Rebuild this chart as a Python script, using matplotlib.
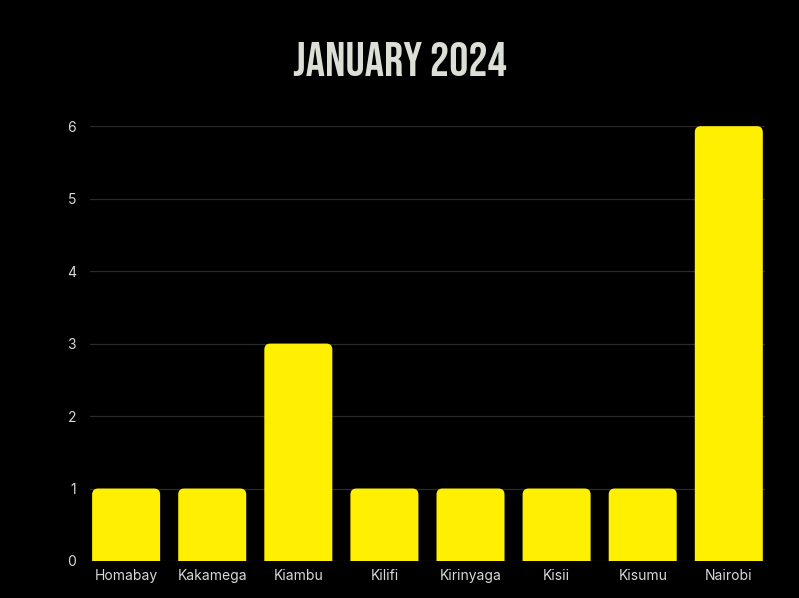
import matplotlib.pyplot as plt
from matplotlib.patches import FancyBboxPatch

counties = ["Homabay", "Kakamega", "Kiambu", "Kilifi", "Kirinyaga", "Kisii", "Kisumu", "Nairobi"]
counts = [1, 1, 3, 1, 1, 1, 1, 6]

bar_color = "#ffef00"
text_color = "#d9d9d9"
bar_w = 0.79

fig = plt.figure(figsize=(7.99, 5.98), dpi=100, facecolor="black")
ax = fig.add_axes([0.1126, 0.0619, 0.8448, 0.7271], facecolor="black")

# rounded boxes start below zero, so the axes clip away the bottom corners
for i, c in enumerate(counts):
    ax.add_patch(FancyBboxPatch((i - bar_w / 2, -0.3), bar_w, c + 0.3,
                                boxstyle="round,pad=0,rounding_size=0.07",
                                mutation_aspect=1.19,
                                facecolor=bar_color, edgecolor="none", zorder=3))

ax.set_xlim(-0.42, len(counties) - 1 + 0.42)
ax.set_ylim(0, 6)
ax.set_xticks(range(len(counties)))
ax.set_xticklabels(counties)
ax.set_yticks(range(7))
ax.tick_params(length=0, colors=text_color, labelsize=10)
ax.tick_params(axis="y", pad=10)
ax.tick_params(axis="x", pad=6)
for lbl in ax.get_xticklabels() + ax.get_yticklabels():
    lbl.set_family(["Inter", "DejaVu Sans"])
ax.grid(axis="y", color="#2b2b2b", linewidth=0.9, zorder=0)
for s in ax.spines.values():
    s.set_visible(False)

title = fig.text(0.5, 0.902, "JANUARY 2024", ha="center", va="center", color="#dcdfd6",
                 fontsize=34.5, family=["Bebas Neue", "DejaVu Sans"])
title.set_path_effects([])

fig.savefig("out.png", facecolor="black")
